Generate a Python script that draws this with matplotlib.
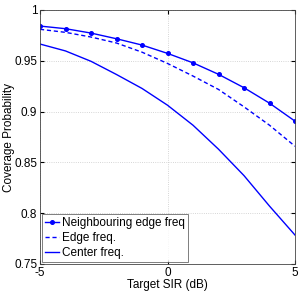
import matplotlib
matplotlib.use("Agg")
import matplotlib.pyplot as plt
from matplotlib.ticker import FormatStrFormatter

# --- data
sir_db = [-5, -4, -3, -2, -1, 0, 1, 2, 3, 4, 5]
neigh_edge = [0.9842, 0.9816, 0.9773, 0.9717, 0.9655, 0.9573, 0.9480, 0.9367, 0.9235, 0.9083, 0.8906]
edge_freq = [0.9810, 0.9780, 0.9734, 0.9675, 0.9585, 0.9474, 0.9350, 0.9218, 0.9047, 0.8866, 0.8659]
center_freq = [0.9665, 0.9597, 0.9495, 0.9365, 0.9228, 0.9063, 0.8866, 0.8630, 0.8370, 0.8070, 0.7785]

x_ticks = [-5, 0, 5]
y_ticks = [0.75, 0.8, 0.85, 0.9, 0.95, 1.0]

plt.rcParams["font.family"] = ["Liberation Sans", "DejaVu Sans"]

fig = plt.figure(figsize=(3.06, 2.91), dpi=100)
ax = fig.add_axes([40 / 306, 1 - 264 / 291, 255 / 306, 254 / 291])

blue = "#0000ff"
ax.plot(sir_db, neigh_edge, color=blue, lw=1.0, marker="o", ms=2.6,
        label="Neighbouring edge freq")
ax.plot(sir_db, edge_freq, color=blue, lw=1.0, ls=(0, (3, 2)), label="Edge freq.")
ax.plot(sir_db, center_freq, color=blue, lw=1.0, label="Center freq.")

ax.set_xlim(-5, 5)
ax.set_ylim(0.75, 1.0)
ax.set_xticks(x_ticks)
ax.set_yticks(y_ticks)
ax.xaxis.set_major_formatter(FormatStrFormatter("%g"))
ax.yaxis.set_major_formatter(FormatStrFormatter("%g"))
ax.tick_params(direction="in", length=3, labelsize=8.5, top=True, right=True, pad=2)
ax.grid(True, ls=":", color="#c8c8c8", lw=0.6)

for s in ax.spines.values():
    s.set_linewidth(0.6)
    s.set_color("#444444")

ax.set_xlabel("Target SIR (dB)", fontsize=8.5, labelpad=0)
ax.set_ylabel("Coverage Probability", fontsize=8.5)
ax.yaxis.set_label_coords(-25 / 255, 0.5)

leg = ax.legend(loc="lower left", fontsize=8.5, frameon=True, fancybox=False,
                borderaxespad=0.2, handlelength=1.2, handletextpad=0.2,
                labelspacing=0.25, borderpad=0.25)
leg.get_frame().set_edgecolor("#444444")
leg.get_frame().set_linewidth(0.6)

fig.savefig("out.png", dpi=100)
